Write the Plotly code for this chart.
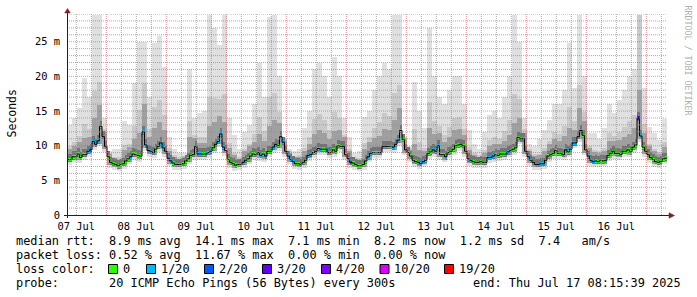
import pandas as pd
import plotly.graph_objects as go

START = pd.Timestamp("2025-07-07 08:15:39")
END = pd.Timestamp("2025-07-17 08:15:39")

# hourly median RTT (ms)
median_ms = [
    8.0, 8.0, 8.4, 8.4, 8.8, 8.3, 8.7, 8.7, 9.2, 9.4,
    10.6, 10.2, 10.7, 12.8, 11.3, 9.9, 8.4, 7.6, 7.4, 7.3,
    7.1, 7.3, 7.4, 7.8, 8.1, 8.4, 8.8, 8.7, 8.6, 8.5,
    12.0, 10.1, 9.3, 9.2, 9.0, 9.5, 9.9, 10.4, 9.7, 9.2,
    8.2, 7.8, 7.5, 7.3, 7.3, 7.3, 7.4, 7.8, 8.1, 8.6,
    8.7, 9.9, 8.8, 8.8, 8.8, 8.8, 9.0, 9.2, 9.7, 10.2,
    10.6, 11.7, 9.8, 9.3, 8.0, 7.6, 7.4, 7.2, 7.3, 7.3,
    7.6, 7.9, 8.1, 8.5, 8.8, 8.7, 9.0, 8.6, 8.8, 8.5,
    9.2, 9.2, 9.8, 10.2, 10.0, 11.3, 10.5, 9.2, 8.5, 8.0,
    7.7, 7.4, 7.4, 7.3, 7.6, 7.9, 8.6, 8.7, 9.0, 9.2,
    9.6, 9.5, 9.5, 9.5, 9.0, 9.0, 9.4, 9.2, 10.0, 9.9,
    9.9, 8.7, 8.1, 7.6, 7.5, 7.3, 7.1, 7.1, 7.3, 7.8,
    8.4, 8.9, 9.0, 9.0, 9.0, 9.0, 9.9, 9.9, 9.9, 9.9,
    9.8, 10.2, 10.8, 12.2, 10.9, 9.4, 9.0, 8.5, 7.9, 7.7,
    7.6, 7.4, 7.7, 7.9, 8.9, 9.1, 9.4, 9.2, 10.0, 8.7,
    8.7, 8.4, 9.0, 9.2, 9.5, 10.0, 10.1, 10.2, 10.0, 9.2,
    8.1, 7.9, 7.7, 7.6, 7.6, 7.7, 7.6, 7.6, 8.3, 8.3,
    8.5, 8.7, 8.6, 8.8, 8.8, 8.8, 9.1, 9.3, 9.5, 9.7,
    11.2, 11.0, 11.0, 9.2, 8.4, 7.9, 7.6, 7.3, 7.3, 7.4,
    7.4, 7.9, 8.5, 8.7, 8.9, 9.3, 8.9, 8.9, 8.7, 9.4,
    9.1, 9.5, 10.4, 10.4, 11.3, 12.2, 11.5, 9.4, 8.5, 7.9,
    7.7, 7.8, 7.7, 7.9, 7.8, 7.9, 8.6, 8.9, 9.2, 8.9,
    8.9, 8.7, 9.2, 9.2, 9.4, 9.1, 9.8, 10.1, 14.0, 11.4,
    9.8, 9.2, 8.7, 8.3, 8.0, 7.7, 7.6, 7.7, 8.1, 8.2,
]

# hourly loss level (index into loss_labels)
loss_idx = [
    0, 0, 0, 0, 0, 0, 0, 0, 1, 2,
    1, 1, 1, 0, 1, 1, 0, 0, 0, 0,
    0, 0, 0, 0, 0, 1, 0, 0, 0, 0,
    1, 1, 1, 1, 1, 0, 0, 1, 1, 1,
    1, 1, 0, 0, 0, 0, 0, 0, 0, 0,
    0, 1, 1, 1, 0, 1, 0, 1, 0, 1,
    1, 1, 1, 0, 0, 0, 0, 0, 0, 0,
    1, 1, 0, 0, 0, 0, 1, 1, 0, 1,
    0, 0, 1, 1, 0, 1, 1, 1, 1, 1,
    1, 0, 0, 1, 0, 0, 1, 1, 0, 1,
    0, 1, 0, 1, 1, 0, 0, 0, 0, 0,
    1, 0, 1, 2, 0, 0, 0, 0, 0, 0,
    1, 1, 0, 0, 0, 1, 1, 1, 0, 0,
    1, 1, 1, 0, 0, 1, 0, 0, 0, 0,
    1, 1, 1, 0, 0, 0, 1, 1, 1, 0,
    0, 1, 0, 0, 0, 0, 0, 1, 0, 0,
    1, 1, 0, 0, 0, 0, 0, 0, 1, 1,
    1, 0, 0, 0, 0, 1, 1, 1, 0, 0,
    0, 1, 1, 1, 1, 0, 1, 1, 1, 1,
    1, 0, 0, 0, 0, 0, 0, 0, 0, 1,
    0, 1, 1, 1, 1, 1, 0, 0, 1, 1,
    1, 0, 0, 0, 0, 1, 0, 0, 0, 0,
    0, 0, 0, 0, 0, 0, 0, 0, 3, 1,
    0, 0, 0, 0, 0, 0, 0, 0, 0, 0,
]

loss_labels = ["0", "1/20", "2/20", "3/20", "4/20", "10/20", "19/20"]
loss_colors = ["#26ff00", "#00b8ff", "#0059ff", "#5e00ff", "#7e00ff", "#dd00ff", "#ff0000"]

# smoke (2-hour steps, ms)
smoke_min = [
    7.2, 7.6, 7.5, 7.9, 8.4, 9.4, 9.9, 9.1, 6.8, 6.5,
    6.3, 6.6, 7.3, 7.9, 7.7, 9.3, 8.4, 8.2, 9.1, 8.4,
    7.0, 6.5, 6.5, 6.6, 7.3, 7.9, 8.0, 8.0, 8.2, 8.9,
    9.8, 8.5, 6.8, 6.4, 6.5, 6.8, 7.3, 7.9, 7.8, 7.7,
    8.4, 9.0, 9.2, 8.4, 7.2, 6.6, 6.5, 6.8, 7.8, 8.2,
    8.7, 8.7, 8.2, 8.4, 9.1, 7.9, 6.8, 6.5, 6.3, 6.5,
    7.6, 8.2, 8.2, 9.1, 9.1, 9.0, 10.0, 8.6, 7.7, 6.9,
    6.6, 6.9, 8.1, 8.4, 7.9, 7.6, 8.2, 8.7, 9.3, 8.4,
    7.1, 6.8, 6.8, 6.8, 7.5, 7.7, 7.8, 8.0, 8.3, 8.7,
    10.2, 8.4, 7.1, 6.5, 6.5, 6.6, 7.7, 8.1, 8.1, 7.9,
    8.3, 9.6, 10.5, 8.6, 7.1, 6.9, 6.9, 7.0, 7.8, 8.1,
    7.9, 8.4, 8.3, 9.0, 10.6, 8.4, 7.5, 6.9, 6.8, 7.3,
]
smoke_low = [
    7.6, 8.0, 7.9, 8.3, 8.8, 9.8, 10.3, 9.5, 7.2, 6.9,
    6.7, 7.0, 7.7, 8.3, 8.1, 9.7, 8.8, 8.6, 9.5, 8.8,
    7.4, 6.9, 6.9, 7.0, 7.7, 8.3, 8.4, 8.4, 8.6, 9.3,
    10.2, 8.9, 7.2, 6.8, 6.9, 7.2, 7.7, 8.3, 8.2, 8.1,
    8.8, 9.4, 9.6, 8.8, 7.6, 7.0, 6.9, 7.2, 8.2, 8.6,
    9.1, 9.1, 8.6, 8.8, 9.5, 8.3, 7.2, 6.9, 6.7, 6.9,
    8.0, 8.6, 8.6, 9.5, 9.5, 9.4, 10.4, 9.0, 8.1, 7.3,
    7.0, 7.3, 8.5, 8.8, 8.3, 8.0, 8.6, 9.1, 9.7, 8.8,
    7.5, 7.2, 7.2, 7.2, 7.9, 8.1, 8.2, 8.4, 8.7, 9.1,
    10.6, 8.8, 7.5, 6.9, 6.9, 7.0, 8.1, 8.5, 8.5, 8.3,
    8.7, 10.0, 10.9, 9.0, 7.5, 7.3, 7.3, 7.4, 8.2, 8.5,
    8.3, 8.8, 8.7, 9.4, 11.0, 8.8, 7.9, 7.3, 7.2, 7.7,
]
smoke_q1 = [
    9.5, 9.9, 10.5, 11.1, 11.2, 14.0, 15.9, 12.0, 8.8, 8.2,
    8.0, 9.4, 9.8, 11.0, 11.8, 16.0, 11.2, 12.5, 13.4, 12.2,
    9.2, 8.3, 8.0, 8.3, 11.2, 11.1, 10.4, 10.4, 12.8, 13.4,
    14.3, 13.4, 9.6, 8.7, 8.1, 9.2, 9.9, 10.6, 11.7, 10.7,
    12.8, 13.7, 13.3, 10.7, 9.0, 8.3, 8.3, 9.3, 10.3, 11.7,
    12.2, 11.8, 10.9, 12.1, 12.2, 11.2, 9.2, 8.1, 7.9, 9.5,
    10.5, 11.1, 11.4, 12.4, 12.3, 13.7, 15.4, 11.0, 9.4, 10.3,
    9.4, 9.3, 12.5, 11.7, 11.8, 10.5, 11.2, 12.2, 12.4, 11.6,
    9.4, 8.6, 8.4, 9.0, 9.9, 10.3, 10.3, 10.7, 11.6, 13.3,
    14.0, 11.9, 9.2, 8.5, 8.6, 9.3, 10.2, 11.0, 10.7, 11.4,
    12.5, 12.3, 15.4, 13.5, 9.6, 9.1, 8.9, 9.3, 10.7, 10.7,
    10.8, 11.2, 11.7, 12.5, 18.0, 11.9, 10.0, 9.3, 8.8, 9.8,
]
smoke_q2 = [
    10.0, 10.6, 11.4, 13.1, 12.4, 17.9, 19.2, 12.4, 9.0, 8.4,
    8.3, 10.1, 10.2, 12.9, 15.2, 19.0, 12.4, 15.6, 16.6, 14.4,
    9.6, 8.6, 8.3, 8.5, 13.6, 11.6, 11.2, 11.3, 17.0, 16.9,
    16.8, 17.4, 10.4, 9.0, 8.4, 9.5, 10.3, 11.7, 14.2, 12.1,
    17.0, 17.6, 14.8, 10.9, 9.2, 8.5, 8.6, 9.7, 11.2, 13.9,
    14.6, 13.7, 12.2, 14.8, 14.0, 11.5, 9.5, 8.4, 8.2, 10.4,
    11.3, 12.6, 13.4, 14.7, 14.3, 17.6, 18.8, 11.2, 9.7, 12.4,
    10.6, 9.7, 16.3, 13.6, 12.8, 11.6, 12.7, 14.0, 14.1, 12.4,
    9.8, 9.0, 8.7, 9.4, 10.8, 11.3, 11.0, 12.1, 13.7, 17.4,
    16.7, 12.4, 9.5, 8.8, 8.8, 9.7, 10.7, 12.0, 11.7, 12.8,
    15.6, 13.6, 18.8, 14.9, 9.9, 9.4, 9.3, 9.7, 11.8, 11.4,
    12.0, 12.7, 13.6, 14.5, 28.8, 13.2, 10.3, 9.5, 9.1, 10.5,
]
smoke_max = [
    13.0, 14.0, 15.4, 19.7, 17.0, 28.8, 28.8, 14.0, 9.3, 9.5,
    9.5, 13.5, 13.0, 19.0, 25.0, 25.0, 17.0, 24.8, 25.8, 21.4,
    11.3, 9.5, 9.0, 9.0, 21.0, 14.0, 14.7, 15.0, 28.8, 27.0,
    24.5, 28.8, 14.0, 11.5, 9.5, 12.0, 13.0, 16.0, 22.0, 17.0,
    28.6, 28.8, 20.0, 11.0, 9.5, 9.2, 9.5, 12.5, 15.0, 21.0,
    22.0, 20.0, 17.0, 22.8, 20.0, 14.0, 11.3, 9.0, 9.2, 14.2,
    15.0, 18.0, 20.0, 22.0, 21.0, 28.8, 28.8, 11.0, 10.0, 19.2,
    15.0, 12.5, 27.0, 20.0, 17.0, 16.0, 18.0, 20.0, 20.0, 16.0,
    12.3, 10.3, 9.5, 12.0, 14.5, 15.0, 14.0, 17.0, 20.0, 28.8,
    25.0, 14.0, 10.3, 9.9, 11.0, 12.3, 13.7, 16.0, 16.0, 18.0,
    24.8, 18.3, 28.8, 20.0, 11.8, 11.8, 11.0, 12.5, 16.0, 14.7,
    16.6, 18.0, 20.0, 21.0, 28.8, 18.3, 12.7, 11.8, 10.8, 13.9,
]

day_labels = ["07 Jul", "08 Jul", "09 Jul", "10 Jul", "11 Jul",
              "12 Jul", "13 Jul", "14 Jul", "15 Jul", "16 Jul"]
y_ticks = [0, 5, 10, 15, 20, 25]
y_tick_text = ["0", "5 m", "10 m", "15 m", "20 m", "25 m"]
Y_MAX = 29

line_rtt = "median rtt:  8.9 ms avg  14.1 ms max  7.1 ms min  8.2 ms now  1.2 ms sd  7.4   am/s"
line_loss = "packet loss: 0.52 % avg  11.67 % max  0.00 % min  0.00 % now"
line_color = "loss color:"
line_probe = "probe:       20 ICMP Echo Pings (56 Bytes) every 300s"
line_end = "end: Thu Jul 17 08:15:39 2025"

HOUR_MS = 3600 * 1000
hour_x = [START + pd.Timedelta(hours=h + 0.5) for h in range(len(median_ms))]
step_x = [START + pd.Timedelta(hours=h) for h in range(len(median_ms) + 1)]
smoke_x = [START + pd.Timedelta(hours=2 * k + 1) for k in range(len(smoke_max))]

fig = go.Figure()


def band(base, top, color):
    fig.add_trace(go.Bar(
        x=smoke_x, base=base, y=[t - b for t, b in zip(top, base)],
        width=2 * HOUR_MS, marker=dict(color=color, line=dict(width=0)),
        hoverinfo="skip", showlegend=False))


band(smoke_min, smoke_max, "#e0e0e0")
band(smoke_low, smoke_q2, "#c9c9c9")
band(smoke_low, smoke_q1, "#a0a0a0")

# dark smoke core hugging the median
fig.add_trace(go.Bar(
    x=hour_x, base=[m - 0.4 for m in median_ms], y=[1.2] * len(median_ms),
    width=HOUR_MS, marker=dict(color="#747474", line=dict(width=0)),
    hoverinfo="skip", showlegend=False))

fig.add_trace(go.Scatter(
    x=step_x, y=median_ms + [median_ms[-1]], mode="lines",
    line=dict(color="#000000", width=1, shape="hv"),
    hoverinfo="skip", showlegend=False))

fig.add_trace(go.Bar(
    x=hour_x, base=[m - 0.25 for m in median_ms], y=[0.5] * len(median_ms),
    width=HOUR_MS, marker=dict(color=[loss_colors[i] for i in loss_idx], line=dict(width=0)),
    hoverinfo="skip", showlegend=False))

# plot geometry (px)
L, R, T, B = 67, 30, 14, 82
W, H = 697, 297
PW, PH = W - L - R, H - T - B


def px(xpix):
    return (xpix - L) / PW


def py(ypix):
    return (T + PH - ypix) / PH


shapes = []
GRID = "rgba(143,143,143,0.75)"
MGRID = "rgba(222,79,79,0.6)"
for v in range(1, Y_MAX + 1):
    shapes.append(dict(type="line", xref="paper", yref="y", x0=0, x1=1, y0=v, y1=v,
                       layer="above",
                       line=dict(color=MGRID if v % 5 == 0 else GRID, width=1, dash="1px,1px")))
t = pd.Timestamp("2025-07-07 12:00:00")
while t < END:
    major = t.hour == 0
    shapes.append(dict(type="line", xref="x", yref="paper", x0=t, x1=t, y0=0, y1=1,
                       layer="above",
                       line=dict(color=MGRID if major else GRID, width=1, dash="1px,1px")))
    t += pd.Timedelta(hours=6)

AXIS = "#1f1f1f"
ARROW = "#801f1f"
shapes.append(dict(type="line", xref="paper", yref="paper", x0=px(64), x1=px(670),
                   y0=py(215.5), y1=py(215.5), layer="above", line=dict(color=AXIS, width=1)))
shapes.append(dict(type="line", xref="paper", yref="paper", x0=px(67.5), x1=px(67.5),
                   y0=py(218), y1=py(11), layer="above", line=dict(color=AXIS, width=1)))
shapes.append(dict(type="path", xref="paper", yref="paper", layer="above",
                   path=f"M {px(669)},{py(212.7)} L {px(674.5)},{py(215.5)} L {px(669)},{py(218.3)} Z",
                   fillcolor=ARROW, line=dict(color=ARROW, width=0.5)))
shapes.append(dict(type="path", xref="paper", yref="paper", layer="above",
                   path=f"M {px(64.7)},{py(13)} L {px(67.5)},{py(8.5)} L {px(70.3)},{py(13)} Z",
                   fillcolor=ARROW, line=dict(color=ARROW, width=0.5)))

# legend colour boxes
box_x = [108.5, 146.5, 204.5, 262.5, 321.5, 380.0, 444.5]
text_x = [123.0, 161.0, 219.0, 277.0, 336.0, 394.0, 459.0]
for c, bx in zip(loss_colors, box_x):
    shapes.append(dict(type="rect", xref="paper", yref="paper",
                       x0=px(bx), x1=px(bx + 9), y0=py(264.5), y1=py(273.5),
                       fillcolor=c, line=dict(color="#000000", width=1)))

FONT = "DejaVu Sans Mono"
LFS = 11.9
nb = lambda s: s.replace(" ", "\u00a0")
ann = []


def txt(s, x, y, anchor="left", size=LFS, color="#000000", angle=0):
    ann.append(dict(text=nb(s), xref="paper", yref="paper", x=x, y=y, xanchor=anchor,
                    yanchor="middle", showarrow=False, textangle=angle,
                    font=dict(family=FONT, size=size, color=color), borderpad=0))


txt(line_rtt, px(15), py(241))
txt(line_loss, px(15), py(255))
txt(line_color, px(15), py(269))
for lab, tx in zip(loss_labels, text_x):
    txt(lab, px(tx - 1), py(269))
txt(line_probe, px(15), py(283))
txt(line_end, px(682), py(283), anchor="right")
txt("Seconds", px(11), py(113.5), anchor="center", size=11.5, angle=-90)
txt("RRDTOOL / TOBI OETIKER", px(687.5), py(60), anchor="center", size=8.3,
    color="#b0b0b0", angle=90)

noons = [pd.Timestamp("2025-07-07 12:00:00") + pd.Timedelta(days=d) for d in range(len(day_labels))]

fig.update_layout(
    width=W, height=H, margin=dict(l=L, r=R, t=T, b=B, autoexpand=False),
    paper_bgcolor="#ffffff", plot_bgcolor="#ffffff",
    barmode="overlay", bargap=0, showlegend=False,
    font=dict(family=FONT, size=10.4, color="#000000"),
    shapes=shapes, annotations=ann,
    xaxis=dict(type="date", range=[START, END], tickmode="array", tickvals=noons,
               ticktext=day_labels, ticks="outside", ticklen=2, tickcolor="rgba(0,0,0,0)",
               showgrid=False, zeroline=False, showline=False, automargin=False,
               tickfont=dict(family=FONT, size=10.4, color="#000000")),
    yaxis=dict(range=[0, Y_MAX], tickmode="array", tickvals=y_ticks, ticktext=y_tick_text,
               ticks="outside", ticklen=4, tickcolor="rgba(0,0,0,0)",
               showgrid=False, zeroline=False, showline=False, automargin=False,
               tickfont=dict(family=FONT, size=10.4, color="#000000")),
)

fig.write_html("out.html")
